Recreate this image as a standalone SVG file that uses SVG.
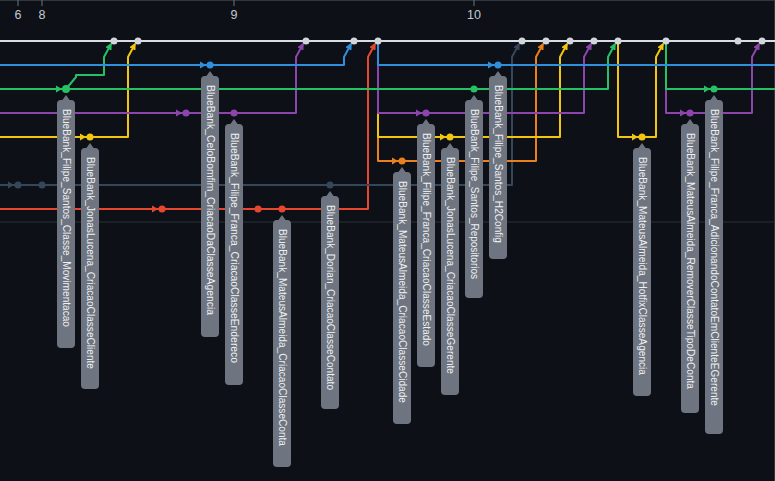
<svg xmlns="http://www.w3.org/2000/svg" width="775" height="481" viewBox="0 0 775 481">
<style>
.ln{fill:none;stroke-width:2;stroke-linejoin:round}
.w{stroke:#dadde1}.wf{fill:#d2d5da}
.b{stroke:#2f8fdc}.bf{fill:#2f8fdc}
.g{stroke:#27c165}.gf{fill:#27c165}
.p{stroke:#8e44ad}.pf{fill:#8e44ad}
.y{stroke:#f2c511}.yf{fill:#f2c511}
.o{stroke:#ea7f1e}.of{fill:#ea7f1e}
.s{stroke:#354759}.sf{fill:#354759}
.r{stroke:#e8472f}.rf{fill:#e8472f}
.tag{fill:#6e7580}
.tt{fill:#eef1f4;font-family:"Liberation Sans",Arial,sans-serif;font-size:10px}
.tick{stroke:#6b737d;stroke-width:1}
.num{fill:#c3c9d0;font-family:"Liberation Sans",Arial,sans-serif;font-size:12.5px;text-anchor:middle}
</style>
<defs>
<marker id="mb" viewBox="0 0 10 10" refX="8" refY="5" markerWidth="7" markerHeight="7" markerUnits="userSpaceOnUse" orient="auto"><path d="M0,0L10,5L0,10z" fill="#2f8fdc"/></marker>
<marker id="mg" viewBox="0 0 10 10" refX="8" refY="5" markerWidth="7" markerHeight="7" markerUnits="userSpaceOnUse" orient="auto"><path d="M0,0L10,5L0,10z" fill="#27c165"/></marker>
<marker id="mp" viewBox="0 0 10 10" refX="8" refY="5" markerWidth="7" markerHeight="7" markerUnits="userSpaceOnUse" orient="auto"><path d="M0,0L10,5L0,10z" fill="#8e44ad"/></marker>
<marker id="my" viewBox="0 0 10 10" refX="8" refY="5" markerWidth="7" markerHeight="7" markerUnits="userSpaceOnUse" orient="auto"><path d="M0,0L10,5L0,10z" fill="#f2c511"/></marker>
<marker id="mo" viewBox="0 0 10 10" refX="8" refY="5" markerWidth="7" markerHeight="7" markerUnits="userSpaceOnUse" orient="auto"><path d="M0,0L10,5L0,10z" fill="#ea7f1e"/></marker>
<marker id="ms" viewBox="0 0 10 10" refX="8" refY="5" markerWidth="7" markerHeight="7" markerUnits="userSpaceOnUse" orient="auto"><path d="M0,0L10,5L0,10z" fill="#354759"/></marker>
<marker id="mr" viewBox="0 0 10 10" refX="8" refY="5" markerWidth="7" markerHeight="7" markerUnits="userSpaceOnUse" orient="auto"><path d="M0,0L10,5L0,10z" fill="#e8472f"/></marker>
<path id="ah" d="M-10,-3.5L-4,0L-10,3.5z"/>
</defs>
<rect width="775" height="481" fill="#0d1117"/>
<line x1="0" y1="0.5" x2="775" y2="0.5" stroke="#30363d"/>
<line x1="774.5" y1="0" x2="774.5" y2="481" stroke="#30363d"/>
<line x1="0" y1="222" x2="775" y2="222" stroke="#2a3037"/>
<g id="axis">
<line class="tick" x1="18" y1="0" x2="18" y2="6"/><text class="num" x="18" y="19">6</text>
<line class="tick" x1="42" y1="0" x2="42" y2="6"/><text class="num" x="42" y="19">8</text>
<line class="tick" x1="234" y1="0" x2="234" y2="6"/><text class="num" x="234" y="19">9</text>
<line class="tick" x1="474" y1="0" x2="474" y2="6"/><text class="num" x="474" y="19">10</text>
</g>
<g id="connectors">
<path class="ln w" d="M0,41H775"/>
<path class="ln r" d="M0,209H368V57L375,44" marker-end="url(#mr)"/>
<path class="ln s" d="M0,185H512V57L519,44" marker-end="url(#ms)"/>
<path class="ln o" d="M378,41V161H536V57L543,44" marker-end="url(#mo)"/>
<path class="ln y" d="M0,137H128V57L135,44" marker-end="url(#my)"/>
<path class="ln y" d="M378,41V137H560V57L567,44" marker-end="url(#my)"/>
<path class="ln y" d="M618,41V137H656V57L663,44" marker-end="url(#my)"/>
<path class="ln p" d="M0,113H296V57L303,44" marker-end="url(#mp)"/>
<path class="ln p" d="M378,41V113H584V57L591,44" marker-end="url(#mp)"/>
<path class="ln p" d="M666,41V113H752V57L759,44" marker-end="url(#mp)"/>
<path class="ln g" d="M0,89H608V57L615,44" marker-end="url(#mg)"/>
<path class="ln g" d="M66,89L76,77V75H104V57L111,44" marker-end="url(#mg)"/>
<path class="ln g" d="M666,41V89H775"/>
<path class="ln b" d="M0,65H344V57L351,44" marker-end="url(#mb)"/>
<path class="ln b" d="M378,41V65H775"/>
<use href="#ah" class="bf" x="210" y="65"/><use href="#ah" class="bf" x="498" y="65"/>
<use href="#ah" class="gf" x="66" y="89"/><use href="#ah" class="gf" x="714" y="89"/>
<use href="#ah" class="pf" x="186" y="113"/><use href="#ah" class="pf" x="426" y="113"/><use href="#ah" class="pf" x="690" y="113"/>
<use href="#ah" class="yf" x="90" y="137"/><use href="#ah" class="yf" x="450" y="137"/><use href="#ah" class="yf" x="642" y="137"/>
<use href="#ah" class="of" x="402" y="161"/>
<use href="#ah" class="sf" x="18" y="185"/>
<use href="#ah" class="rf" x="162" y="209"/>
</g>
<g id="commits">
<g class="wf"><circle cx="114" cy="41" r="3.5"/><circle cx="138" cy="41" r="3.5"/><circle cx="306" cy="41" r="3.5"/><circle cx="354" cy="41" r="3.5"/><circle cx="378" cy="41" r="3.5"/><circle cx="522" cy="41" r="3.5"/><circle cx="546" cy="41" r="3.5"/><circle cx="570" cy="41" r="3.5"/><circle cx="594" cy="41" r="3.5"/><circle cx="618" cy="41" r="3.5"/><circle cx="666" cy="41" r="3.5"/><circle cx="738" cy="41" r="3.5"/><circle cx="762" cy="41" r="3.5"/></g>
<g class="bf"><circle cx="210" cy="65" r="3.5"/><circle cx="498" cy="65" r="3.5"/></g>
<g class="gf"><circle cx="66" cy="89" r="4"/><circle cx="474" cy="89" r="3.5"/><circle cx="714" cy="89" r="3.5"/></g>
<g class="pf"><circle cx="186" cy="113" r="3.5"/><circle cx="234" cy="113" r="3.5"/><circle cx="426" cy="113" r="3.5"/><circle cx="690" cy="113" r="3.5"/></g>
<g class="yf"><circle cx="90" cy="137" r="3.5"/><circle cx="450" cy="137" r="3.5"/><circle cx="642" cy="137" r="3.5"/></g>
<g class="of"><circle cx="402" cy="161" r="3.5"/></g>
<g class="sf"><circle cx="18" cy="185" r="3.5"/><circle cx="42" cy="185" r="3.5"/><circle cx="330" cy="185" r="3.5"/></g>
<g class="rf"><circle cx="162" cy="209" r="3.5"/><circle cx="258" cy="209" r="3.5"/><circle cx="282" cy="209" r="3.5"/></g>
</g>
<g id="tag1"><path class="tag" d="M61,102L66,95L71,102z"/><rect class="tag" x="57" y="100" width="18" height="248" rx="4"/><text class="tt" transform="translate(66,109) rotate(90)" dy="0.35em" textLength="218" lengthAdjust="spacingAndGlyphs">BlueBank_Filipe_Santos_Classe_Movimentacao</text></g>
<g id="tag2"><path class="tag" d="M85,150L90,143L95,150z"/><rect class="tag" x="81" y="148" width="18" height="241" rx="4"/><text class="tt" transform="translate(90,157) rotate(90)" dy="0.35em" textLength="212" lengthAdjust="spacingAndGlyphs">BlueBank_JonasLucena_CriacaoClasseCliente</text></g>
<g id="tag3"><path class="tag" d="M205,78L210,71L215,78z"/><rect class="tag" x="201" y="76" width="18" height="261" rx="4"/><text class="tt" transform="translate(210,85) rotate(90)" dy="0.35em" textLength="230" lengthAdjust="spacingAndGlyphs">BlueBank_CeloBomfim_CriacaoDaClasseAgencia</text></g>
<g id="tag4"><path class="tag" d="M229,126L234,119L239,126z"/><rect class="tag" x="225" y="124" width="18" height="261" rx="4"/><text class="tt" transform="translate(234,133) rotate(90)" dy="0.35em" textLength="230" lengthAdjust="spacingAndGlyphs">BlueBank_Filipe_Franca_CriacaoClasseEndereco</text></g>
<g id="tag5"><path class="tag" d="M277,222L282,215L287,222z"/><rect class="tag" x="273" y="220" width="18" height="247" rx="4"/><text class="tt" transform="translate(282,229) rotate(90)" dy="0.35em" textLength="217" lengthAdjust="spacingAndGlyphs">BlueBank_MateusAlmeida_CriacaoClasseConta</text></g>
<g id="tag6"><path class="tag" d="M325,198L330,191L335,198z"/><rect class="tag" x="321" y="196" width="18" height="213" rx="4"/><text class="tt" transform="translate(330,205) rotate(90)" dy="0.35em" textLength="185" lengthAdjust="spacingAndGlyphs">BlueBank_Dorian_CriacaoClasseContato</text></g>
<g id="tag7"><path class="tag" d="M397,174L402,167L407,174z"/><rect class="tag" x="393" y="172" width="18" height="252" rx="4"/><text class="tt" transform="translate(402,181) rotate(90)" dy="0.35em" textLength="222" lengthAdjust="spacingAndGlyphs">BlueBank_MateusAlmeida_CriacaoClasseCidade</text></g>
<g id="tag8"><path class="tag" d="M421,126L426,119L431,126z"/><rect class="tag" x="417" y="124" width="18" height="243" rx="4"/><text class="tt" transform="translate(426,133) rotate(90)" dy="0.35em" textLength="213" lengthAdjust="spacingAndGlyphs">BlueBank_Filipe_Franca_CriacaoClasseEstado</text></g>
<g id="tag9"><path class="tag" d="M445,150L450,143L455,150z"/><rect class="tag" x="441" y="148" width="18" height="247" rx="4"/><text class="tt" transform="translate(450,157) rotate(90)" dy="0.35em" textLength="217" lengthAdjust="spacingAndGlyphs">BlueBank_JonasLucena_CriacaoClasseGerente</text></g>
<g id="tag10"><path class="tag" d="M469,102L474,95L479,102z"/><rect class="tag" x="465" y="100" width="18" height="198" rx="4"/><text class="tt" transform="translate(474,109) rotate(90)" dy="0.35em" textLength="170" lengthAdjust="spacingAndGlyphs">BlueBank_Filipe_Santos_Repositorios</text></g>
<g id="tag11"><path class="tag" d="M493,78L498,71L503,78z"/><rect class="tag" x="489" y="76" width="18" height="183" rx="4"/><text class="tt" transform="translate(498,85) rotate(90)" dy="0.35em" textLength="158" lengthAdjust="spacingAndGlyphs">BlueBank_Filipe_Santos_H2Config</text></g>
<g id="tag12"><path class="tag" d="M637,150L642,143L647,150z"/><rect class="tag" x="633" y="148" width="18" height="248" rx="4"/><text class="tt" transform="translate(642,157) rotate(90)" dy="0.35em" textLength="218" lengthAdjust="spacingAndGlyphs">BlueBank_MateusAlmeida_HotfixClasseAgencia</text></g>
<g id="tag13"><path class="tag" d="M685,126L690,119L695,126z"/><rect class="tag" x="681" y="124" width="18" height="289" rx="4"/><text class="tt" transform="translate(690,133) rotate(90)" dy="0.35em" textLength="256" lengthAdjust="spacingAndGlyphs">BlueBank_MateusAlmeida_RemoverClasseTipoDeConta</text></g>
<g id="tag14"><path class="tag" d="M709,102L714,95L719,102z"/><rect class="tag" x="705" y="100" width="18" height="334" rx="4"/><text class="tt" transform="translate(714,109) rotate(90)" dy="0.35em" textLength="297" lengthAdjust="spacingAndGlyphs">BlueBank_Filipe_Franca_AdicionandoContatoEmClienteEGerente</text></g>
</svg>
